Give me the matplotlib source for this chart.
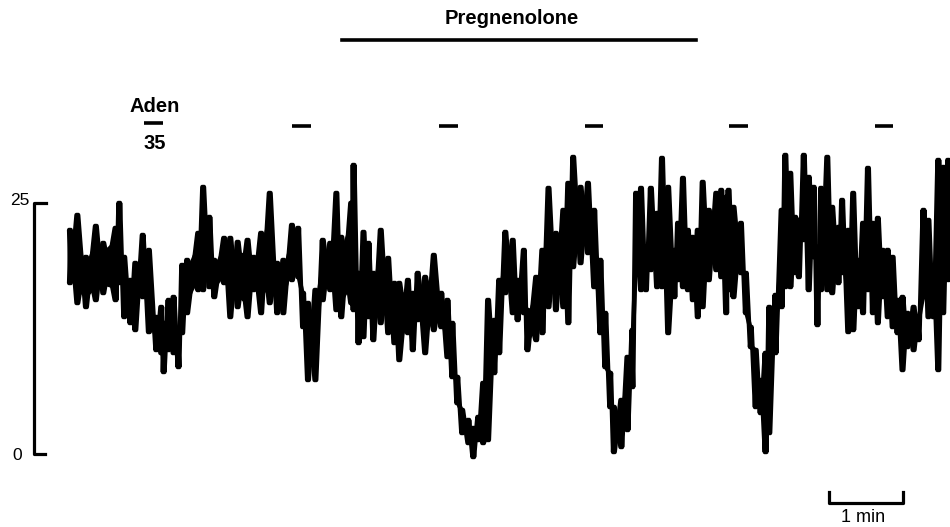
import numpy as np
import matplotlib
matplotlib.use("Agg")
import matplotlib.pyplot as plt

plt.rcParams['font.family'] = ['Liberation Sans', 'DejaVu Sans']

# trace: time (s), local peak and trough of the current
t_s = [1, 7, 14, 22, 28, 38, 41, 45, 50, 54, 60, 65, 71, 75, 77, 81, 85, 89, 92, 96,
       105, 109, 114, 118, 126, 131, 137, 145, 150, 156, 163, 169, 174, 181, 186, 190,
       194, 200, 206, 212, 217, 221, 229, 231, 235, 239, 243, 247, 253, 259, 264, 268,
       275, 279, 283, 289, 296, 302, 307, 311, 315, 319, 324, 328, 332, 336, 340, 345,
       349, 354, 360, 364, 369, 372, 379, 384, 389, 395, 401, 405, 409, 415, 421, 426,
       431, 435, 439, 442, 448, 453, 457, 460, 464, 468, 472, 477, 481, 486, 491, 494,
       498, 502, 506, 510, 514, 519, 525, 529, 533, 535, 539, 545, 549, 553, 557, 561,
       565, 568, 573, 578, 581, 585, 589, 592, 596, 600, 604, 607, 610, 615, 619, 624,
       627, 632, 636, 640, 644, 648, 652, 656, 660, 664, 668, 672, 676, 680, 685, 689,
       693, 697, 701, 705, 709, 713, 715]
peak = [22.3, 23.8, 19.6, 22.7, 21.0, 22.5, 25.0, 19.6, 17.3, 19.0, 21.8, 20.3, 13.6, 14.6,
        13.0, 15.3, 15.6, 12.0, 18.8, 19.3, 22.0, 26.6, 23.6, 19.3, 21.5, 21.5, 21.1, 21.3,
        19.6, 22.0, 26.0, 19.0, 19.3, 22.8, 22.5, 16.0, 15.0, 16.3, 21.3, 21.0, 26.0, 21.6,
        25.0, 28.8, 18.0, 22.1, 21.0, 18.0, 22.3, 19.5, 17.0, 17.0, 17.3, 16.0, 18.0, 17.6,
        19.8, 16.0, 15.3, 13.0, 7.6, 4.3, 3.3, 2.5, 3.6, 7.0, 15.3, 13.3, 17.3, 22.1,
        21.3, 17.3, 20.3, 14.3, 17.6, 20.3, 26.5, 22.0, 24.3, 27.0, 29.6, 26.6, 27.0, 24.3,
        19.3, 14.0, 8.0, 4.6, 5.3, 9.6, 12.3, 26.0, 26.5, 20.6, 26.5, 24.0, 29.5, 26.6,
        20.3, 23.0, 27.5, 22.3, 21.6, 22.3, 27.1, 24.3, 26.0, 26.3, 25.6, 26.3, 24.6, 23.0,
        18.0, 12.6, 10.3, 7.3, 10.0, 14.6, 15.8, 24.3, 29.8, 28.0, 23.6, 23.3, 29.8, 27.6,
        26.6, 20.6, 26.5, 29.6, 24.6, 22.6, 25.3, 22.3, 26.0, 19.3, 23.0, 28.5, 23.0, 23.5,
        20.3, 20.3, 19.6, 15.3, 15.6, 14.0, 14.6, 13.6, 24.3, 23.3, 18.3, 29.3, 28.6, 29.3,
        25.0]
trough = [17.0, 15.0, 14.6, 15.3, 16.0, 15.3, 17.0, 13.6, 13.0, 12.3, 15.6, 12.1, 10.3, 10.0,
          8.1, 10.3, 10.0, 8.6, 12.0, 14.0, 16.3, 16.3, 16.6, 15.6, 17.0, 13.6, 14.6, 13.6,
          16.3, 14.0, 15.0, 14.0, 14.0, 17.3, 17.6, 12.6, 7.3, 7.3, 15.3, 16.3, 14.3, 13.6,
          15.0, 14.3, 11.0, 11.6, 13.6, 11.3, 13.0, 12.0, 11.0, 9.3, 12.0, 10.3, 13.3, 10.0,
          12.3, 12.6, 9.6, 7.6, 5.0, 2.0, 1.0, -0.4, 1.3, 1.0, 1.3, 8.0, 10.0, 16.0,
          14.0, 13.3, 14.0, 10.3, 11.3, 12.0, 14.6, 14.3, 14.6, 13.0, 18.6, 19.0, 20.0, 16.6,
          12.0, 8.6, 4.6, 0.1, 0.6, 2.3, 6.6, 18.0, 16.3, 16.3, 18.3, 16.6, 16.6, 12.0,
          15.6, 17.3, 16.6, 16.3, 15.3, 13.6, 14.6, 17.3, 18.3, 17.6, 14.0, 16.3, 15.6, 18.0,
          14.0, 10.6, 4.6, 4.0, 0.1, 2.0, 10.0, 14.6, 16.6, 16.6, 18.0, 17.6, 21.3, 16.3,
          19.6, 12.8, 16.3, 16.3, 16.0, 17.0, 18.0, 12.1, 12.3, 14.6, 14.0, 16.3, 14.0, 13.0,
          15.6, 13.6, 12.6, 12.0, 8.3, 10.6, 10.3, 11.3, 15.6, 13.6, 13.6, 8.3, 14.0, 17.3,
          18.0]

# drug applications
aden_on = [62, 182, 301, 419, 536, 654]   # start of each adenosine pulse (s)
aden_len = 15
preg_on, preg_off = 222, 509

t_s = np.array(t_s, dtype=float)
peak = np.array(peak)
trough = np.array(trough)

fig = plt.figure(figsize=(9.5, 5.27), dpi=100)
ax = fig.add_axes([0, 0, 1, 1])
ax.set_xlim(-55.1, 715.1)
ax.set_ylim(-7.4, 45.3)
ax.axis('off')

# the chart-recorder trace: flicker between peak and trough, drawn both ways
# so the noisy band comes out mostly solid like the pen record
tt = np.column_stack([t_s, t_s + 1.2]).ravel()
ax.plot(tt, np.column_stack([peak, trough]).ravel(), color='black', lw=3.3,
        solid_joinstyle='round', solid_capstyle='round')
ax.plot(tt, np.column_stack([trough, peak]).ravel(), color='black', lw=3.3,
        solid_joinstyle='round', solid_capstyle='round')
mid = (peak + trough) / 2
half = (peak - trough) * 0.34
ax.fill_between(t_s, mid - half, mid + half, color='black', lw=0)

# current scale bar
ax.plot([-17.8, -27.6, -27.6, -18.6], [25, 25, -0.1, -0.1], color='black', lw=2.3)
ax.text(-31, 25.2, '25', ha='right', va='center', fontsize=12.5)
ax.text(-37.3, -0.2, '0', ha='right', va='center', fontsize=12.5)

# adenosine pulses
ax.hlines([33.0] + [32.7] * (len(aden_on) - 1), aden_on, np.array(aden_on) + aden_len,
          color='black', lw=2.6)
ax.text(70.5, 34.6, 'Aden', ha='center', va='center', fontsize=14.5, fontweight='bold')
ax.text(70.5, 30.9, '35', ha='center', va='center', fontsize=14.5, fontweight='bold')

# pregnenolone bar
ax.plot([preg_on, preg_off], [41.3, 41.3], color='black', lw=2.6)
ax.text(359.5, 43.4, 'Pregnenolone', ha='center', va='center', fontsize=14.5, fontweight='bold')

# time scale bar
ax.plot([617, 617, 677, 677], [-3.9, -5.0, -5.0, -3.9], color='black', lw=2.3)
ax.text(644.5, -6.95, '1 min', ha='center', va='baseline', fontsize=13)

fig.savefig('out.png', dpi=100)
